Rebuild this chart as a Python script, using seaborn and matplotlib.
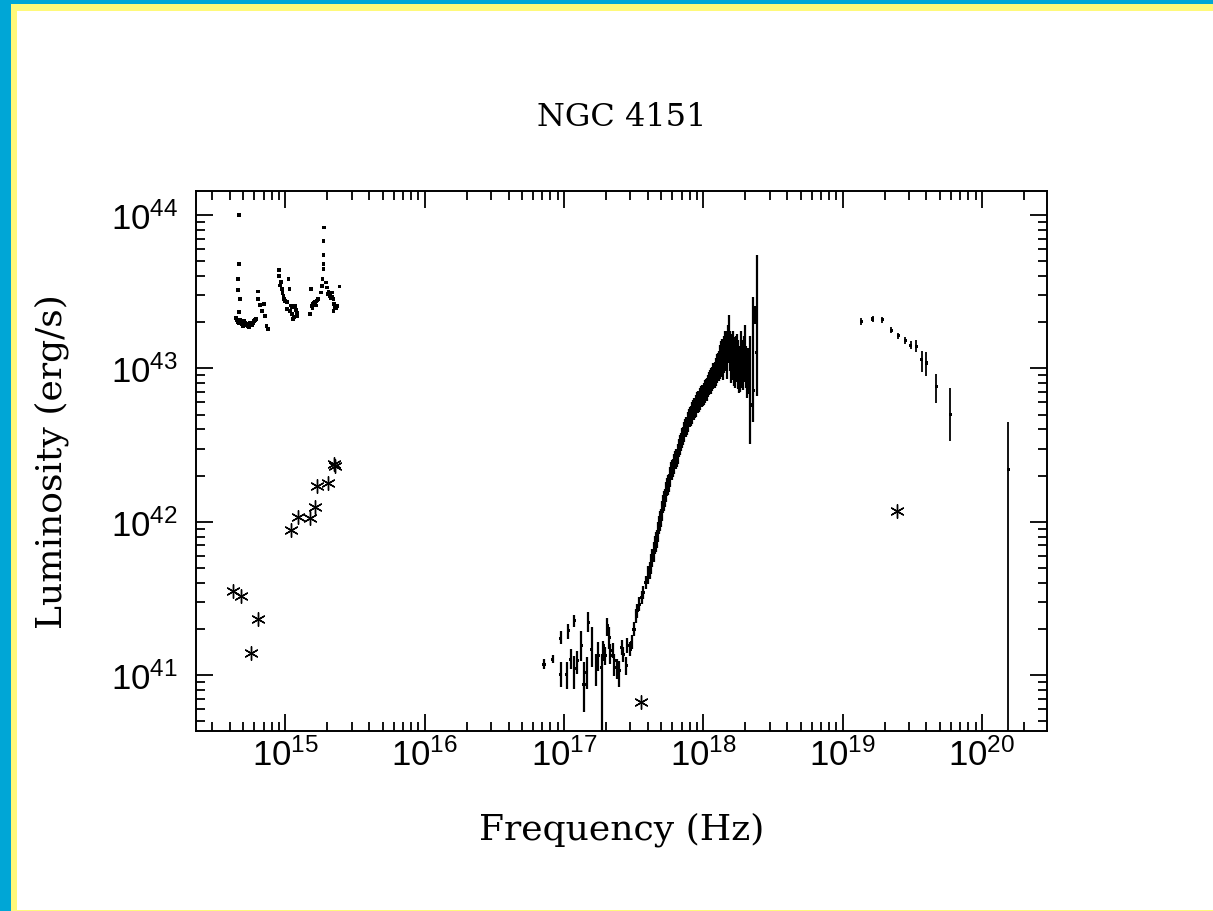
import numpy as np
import pandas as pd
import matplotlib
matplotlib.use("Agg")
import matplotlib.pyplot as plt
from matplotlib.patches import Rectangle
from matplotlib.ticker import FixedLocator, FuncFormatter, NullFormatter
import seaborn as sns

# ---------------- data (log10 Hz, log10 erg/s) ----------------
# optical/UV spectrum (small dots)
opt_logf = [14.670, 14.670, 14.660, 14.660, 14.675, 14.668, 14.646, 14.660, 14.675, 14.689,
            14.703, 14.718, 14.732, 14.747, 14.761, 14.775, 14.790, 14.802, 14.806, 14.818,
            14.831, 14.847, 14.854, 14.866, 14.874, 14.953, 14.957, 14.967, 14.974, 14.986,
            14.991, 15.010, 15.012, 15.022, 15.029, 15.034, 15.046, 15.048, 15.057, 15.070,
            15.082, 15.086, 15.177, 15.182, 15.190, 15.201, 15.213, 15.225, 15.237, 15.254,
            15.261, 15.268, 15.273, 15.273, 15.273, 15.273, 15.280, 15.297, 15.302, 15.321,
            15.333, 15.345, 15.345, 15.350, 15.357, 15.369, 15.388,
            14.652, 14.667, 14.682, 14.696, 14.711, 14.725, 14.740, 14.754, 14.768, 14.783,
            14.961, 14.980, 14.998, 15.040, 15.064, 15.076, 15.195, 15.207, 15.219, 15.231,
            15.290, 15.310, 15.327, 15.339, 15.363]
opt_logL = [44.000, 43.682, 43.583, 43.513, 43.452, 43.367, 43.328, 43.302, 43.315, 43.289,
            43.309, 43.282, 43.276, 43.296, 43.282, 43.309, 43.322, 43.502, 43.452, 43.413,
            43.376, 43.419, 43.343, 43.278, 43.256, 43.643, 43.604, 43.563, 43.517, 43.474,
            43.452, 43.431, 43.387, 43.583, 43.517, 43.374, 43.398, 43.354, 43.322, 43.408,
            43.365, 43.343, 43.354, 43.517, 43.408, 43.419, 43.432, 43.441, 43.452, 43.496,
            43.539, 43.583, 43.648, 43.680, 43.739, 43.832, 43.920, 43.528, 43.485, 43.474,
            43.496, 43.452, 43.376, 43.419, 43.398, 43.408, 43.535,
            43.315, 43.296, 43.302, 43.276, 43.296, 43.289, 43.270, 43.289, 43.296, 43.315,
            43.540, 43.490, 43.440, 43.410, 43.335, 43.380, 43.395, 43.425, 43.410, 43.445,
            43.560, 43.500, 43.460, 43.470, 43.390]

# photometric points (asterisks)
phot_logf = [14.622, 14.680, 14.806, 14.754, 15.041, 15.093, 15.177, 15.213, 15.225,
             15.309, 15.350, 15.357, 17.553, 19.391]
phot_logL = [41.549, 41.517, 41.365, 41.141, 41.945, 42.028, 42.022, 42.093, 42.234,
             42.252, 42.376, 42.365, 40.823, 42.069]

# soft X-ray spectrum (value, lower error, upper error in dex)
xr_logf = [16.857, 16.920, 16.977, 16.977, 17.020, 17.032, 17.049, 17.073, 17.073, 17.096,
           17.123, 17.144, 17.164, 17.175, 17.200, 17.231, 17.247, 17.271, 17.283, 17.295,
           17.312, 17.326, 17.331, 17.350, 17.362, 17.379, 17.398, 17.415, 17.427, 17.446,
           17.455, 17.475, 17.487, 17.503, 17.518, 17.527, 17.541, 17.559, 17.570, 17.589,
           17.604, 17.615, 17.625, 17.630, 17.643, 17.654, 17.661, 17.668, 17.676, 17.683,
           17.690, 17.697, 17.704, 17.712, 17.719, 17.726, 17.733, 17.740, 17.747, 17.755,
           17.762, 17.769, 17.776, 17.783, 17.790, 17.798, 17.805, 17.812, 17.819, 17.826,
           17.834, 17.841, 17.848, 17.855, 17.862, 17.869, 17.877, 17.884, 17.891, 17.898,
           17.905, 17.912, 17.920, 17.927, 17.934, 17.941, 17.948, 17.956, 17.963, 17.970,
           17.977, 17.984, 17.992, 17.999, 18.006, 18.013, 18.020, 18.027, 18.035, 18.042,
           18.049, 18.056, 18.063, 18.070, 18.078, 18.085, 18.092, 18.099, 18.106, 18.114,
           18.121, 18.128, 18.135, 18.142, 18.149, 18.157, 18.164, 18.171, 18.178, 18.185,
           18.193, 18.200, 18.207, 18.214, 18.221, 18.228, 18.236, 18.243, 18.250, 18.257,
           18.264, 18.271, 18.279, 18.286, 18.293, 18.300, 18.307, 18.314, 18.322, 18.336,
           18.360, 18.368, 18.384]
xr_logL = [41.071, 41.104, 41.239, 41.006, 41.001, 41.288, 41.104, 41.354, 41.043, 41.093,
           41.191, 40.941, 41.019, 41.343, 41.169, 41.043, 41.125, 41.052, 41.191, 41.125,
           41.321, 41.245, 41.125, 41.158, 41.093, 41.050, 41.027, 41.180, 41.136, 41.060,
           41.191, 41.169, 41.213, 41.299, 41.386, 41.419, 41.463, 41.506, 41.539, 41.604,
           41.652, 41.684, 41.723, 41.763, 41.802, 41.847, 41.867, 41.887, 41.932, 41.978,
           42.004, 42.024, 42.069, 42.115, 42.134, 42.154, 42.193, 42.226, 42.239, 42.252,
           42.291, 42.330, 42.337, 42.350, 42.376, 42.402, 42.408, 42.415, 42.441, 42.480,
           42.500, 42.519, 42.545, 42.558, 42.585, 42.611, 42.617, 42.624, 42.650, 42.676,
           42.682, 42.689, 42.708, 42.728, 42.735, 42.741, 42.754, 42.780, 42.780, 42.780,
           42.800, 42.819, 42.819, 42.819, 42.832, 42.852, 42.858, 42.865, 42.885, 42.904,
           42.911, 42.917, 42.930, 42.950, 42.950, 42.956, 42.976, 43.002, 43.009, 43.015,
           43.041, 43.061, 43.074, 43.048, 43.093, 43.113, 43.126, 43.074, 43.159, 43.191,
           43.113, 43.048, 43.074, 43.113, 43.048, 43.009, 43.061, 43.093, 43.028, 42.982,
           42.996, 43.074, 43.009, 43.022, 43.061, 43.113, 43.009, 42.969, 42.982, 42.761,
           42.854, 43.348, 43.106]
xr_err_lo = [0.033, 0.026, 0.037, 0.085, 0.093, 0.054, 0.065, 0.041, 0.135, 0.088,
             0.100, 0.183, 0.111, 0.063, 0.117, 0.117, 0.100, 1.500, 0.098, 0.060,
             0.067, 0.076, 0.054, 0.050, 0.100, 0.076, 0.106, 0.050, 0.050, 0.060,
             0.050, 0.045, 0.045, 0.045, 0.045, 0.045, 0.045, 0.045, 0.045, 0.045,
             0.060, 0.055, 0.065, 0.060, 0.065, 0.060, 0.065, 0.060, 0.065, 0.060,
             0.065, 0.060, 0.065, 0.060, 0.065, 0.060, 0.065, 0.060, 0.065, 0.060,
             0.065, 0.060, 0.065, 0.060, 0.065, 0.060, 0.065, 0.060, 0.065, 0.060,
             0.065, 0.060, 0.065, 0.060, 0.065, 0.060, 0.065, 0.060, 0.065, 0.060,
             0.065, 0.065, 0.070, 0.065, 0.070, 0.065, 0.070, 0.065, 0.070, 0.065,
             0.070, 0.065, 0.070, 0.065, 0.070, 0.075, 0.070, 0.075, 0.070, 0.075,
             0.080, 0.085, 0.080, 0.085, 0.080, 0.085, 0.090, 0.095, 0.090, 0.100,
             0.110, 0.120, 0.115, 0.125, 0.120, 0.130, 0.120, 0.140, 0.125, 0.150,
             0.130, 0.140, 0.150, 0.130, 0.160, 0.140, 0.150, 0.130, 0.160, 0.140,
             0.150, 0.170, 0.140, 0.160, 0.150, 0.170, 0.140, 0.160, 0.150, 0.254,
             0.204, 0.060, 0.285]
xr_err_hi = [0.033, 0.026, 0.050, 0.078, 0.083, 0.044, 0.065, 0.037, 0.080, 0.063,
             0.096, 0.143, 0.098, 0.067, 0.144, 0.093, 0.089, 0.085, 0.033, 0.060,
             0.050, 0.067, 0.076, 0.050, 0.044, 0.054, 0.063, 0.050, 0.050, 0.060,
             0.050, 0.045, 0.045, 0.045, 0.045, 0.045, 0.045, 0.045, 0.045, 0.045,
             0.060, 0.055, 0.065, 0.060, 0.065, 0.060, 0.065, 0.060, 0.065, 0.060,
             0.065, 0.060, 0.065, 0.060, 0.065, 0.060, 0.065, 0.060, 0.065, 0.060,
             0.065, 0.060, 0.065, 0.060, 0.065, 0.060, 0.065, 0.060, 0.065, 0.060,
             0.065, 0.060, 0.065, 0.060, 0.065, 0.060, 0.065, 0.060, 0.065, 0.060,
             0.065, 0.065, 0.070, 0.065, 0.070, 0.065, 0.070, 0.065, 0.070, 0.065,
             0.070, 0.065, 0.070, 0.065, 0.070, 0.075, 0.070, 0.075, 0.070, 0.075,
             0.080, 0.085, 0.080, 0.085, 0.080, 0.085, 0.090, 0.095, 0.090, 0.100,
             0.110, 0.120, 0.115, 0.125, 0.120, 0.130, 0.120, 0.140, 0.125, 0.160,
             0.130, 0.140, 0.150, 0.130, 0.160, 0.140, 0.150, 0.130, 0.160, 0.140,
             0.150, 0.170, 0.140, 0.160, 0.150, 0.170, 0.140, 0.160, 0.150, 0.452,
             0.611, 0.060, 0.633]

# hard X-ray points
hx_logf = [19.133, 19.217, 19.286, 19.348, 19.401, 19.449, 19.490, 19.528, 19.569, 19.599,
           19.671, 19.772, 20.190]
hx_logL = [43.304, 43.322, 43.317, 43.250, 43.213, 43.180, 43.152, 43.144, 43.056, 43.035,
           42.883, 42.702, 42.343]
hx_err_lo = [0.023, 0.020, 0.020, 0.019, 0.019, 0.024, 0.027, 0.039, 0.078, 0.083,
             0.111, 0.174, 2.500]
hx_err_hi = [0.023, 0.020, 0.020, 0.019, 0.019, 0.024, 0.027, 0.043, 0.059, 0.069,
             0.080, 0.168, 0.305]

x_major = [15, 16, 17, 18, 19, 20]
y_major = [41, 42, 43, 44]
xlim_log = (14.359, 20.467)
ylim_log = (40.637, 44.159)

# ---------------- style ----------------
sns.set_style("ticks")
plt.rcParams.update({
    "font.family": ["DejaVu Serif"],
    "mathtext.fontset": "custom",
    "mathtext.rm": "Liberation Sans",
    "mathtext.it": "Liberation Sans",
    "mathtext.bf": "Liberation Sans",
    "mathtext.default": "rm",
    "axes.linewidth": 1.4,
    "axes.edgecolor": "black",
    "text.color": "black",
    "axes.labelcolor": "black",
    "xtick.color": "black",
    "ytick.color": "black",
})

fig = plt.figure(figsize=(12.13, 9.12), dpi=100)
fig.patch.set_facecolor("white")

W, H = 1213.0, 912.0
# frame decoration (blue + yellow border)
fig.patches.append(Rectangle((0, 0), 11 / W, 1, transform=fig.transFigure,
                             facecolor="#00A6D6", edgecolor="none", zorder=0))
fig.patches.append(Rectangle((0, 1 - 5 / H), 1, 5 / H, transform=fig.transFigure,
                             facecolor="#00A6D6", edgecolor="none", zorder=0))
fig.patches.append(Rectangle((11 / W, 0), 6 / W, 1 - 5 / H, transform=fig.transFigure,
                             facecolor="#FFF97A", edgecolor="none", zorder=0))
fig.patches.append(Rectangle((11 / W, 1 - 12 / H), 1, 7 / H, transform=fig.transFigure,
                             facecolor="#FFF97A", edgecolor="none", zorder=0))
fig.patches.append(Rectangle((11 / W, 0), 1, 1.5 / H, transform=fig.transFigure,
                             facecolor="#FFF97A", edgecolor="none", zorder=0))

ax = fig.add_axes([196 / W, 1 - 731.7 / H, (1047 - 196) / W, (731.7 - 191.7) / H])
ax.set_facecolor("white")
ax.set_xscale("log")
ax.set_yscale("log")

# optical spectrum
opt = pd.DataFrame({"f": 10 ** np.array(opt_logf), "L": 10 ** np.array(opt_logL)})
sns.scatterplot(data=opt, x="f", y="L", ax=ax, marker="s", s=7, color="black",
                edgecolor="none", linewidth=0, legend=False, zorder=3)

# X-ray spectra with error bars
def errbars(lf, lL, lo, hi, lw):
    f = 10 ** np.asarray(lf)
    L = 10 ** np.asarray(lL)
    ylo = L - 10 ** (np.asarray(lL) - np.asarray(lo))
    yhi = 10 ** (np.asarray(lL) + np.asarray(hi)) - L
    ax.errorbar(f, L, yerr=[ylo, yhi], fmt="none", ecolor="black",
                elinewidth=lw, capsize=0, zorder=2)
    d = pd.DataFrame({"f": f, "L": L})
    sns.scatterplot(data=d, x="f", y="L", ax=ax, marker="s", s=5, color="black",
                    edgecolor="none", linewidth=0, legend=False, zorder=3)

errbars(xr_logf, xr_logL, xr_err_lo, xr_err_hi, 1.6)
errbars(hx_logf, hx_logL, hx_err_lo, hx_err_hi, 1.3)

# photometric asterisks
ph = pd.DataFrame({"f": 10 ** np.array(phot_logf), "L": 10 ** np.array(phot_logL)})
sns.scatterplot(data=ph, x="f", y="L", ax=ax, marker=(6, 2, 0), s=95, color="black",
                linewidth=1.0, legend=False, zorder=4)

ax.set_xlim(10 ** xlim_log[0], 10 ** xlim_log[1])
ax.set_ylim(10 ** ylim_log[0], 10 ** ylim_log[1])

fmt = FuncFormatter(lambda v, p: r"$10^{%d}$" % int(round(np.log10(v))))
for axis, majors, lim in ((ax.xaxis, x_major, xlim_log), (ax.yaxis, y_major, ylim_log)):
    axis.set_major_locator(FixedLocator([10.0 ** e for e in majors]))
    minors = [k * 10.0 ** e for e in range(int(np.floor(lim[0])), int(np.ceil(lim[1])))
              for k in range(2, 10)
              if lim[0] <= np.log10(k * 10.0 ** e) <= lim[1]]
    axis.set_minor_locator(FixedLocator(minors))
    axis.set_major_formatter(fmt)
    axis.set_minor_formatter(NullFormatter())

ax.tick_params(which="both", direction="in", top=True, right=True, color="black")
ax.tick_params(which="major", length=12, width=1.3, labelsize=25)
ax.tick_params(which="minor", length=6.5, width=1.3)
ax.tick_params(axis="x", which="major", pad=5)
ax.tick_params(axis="y", which="major", pad=13)
for s in ax.spines.values():
    s.set_visible(True)
    s.set_color("black")

ax.set_xlabel("Frequency (Hz)", fontsize=26, va="center")
ax.set_ylabel("Luminosity (erg/s)", fontsize=26, va="center")
ax.xaxis.set_label_coords(0.5, -(830 - 731.7) / 540.0)
ax.yaxis.set_label_coords(-(196 - 52) / 851.0, 0.5)
fig.text((196 + 1047) / 2 / W, 1 - 117 / H, "NGC 4151", fontsize=23,
         ha="center", va="center")

fig.savefig("out.png", dpi=100, facecolor=fig.get_facecolor())
